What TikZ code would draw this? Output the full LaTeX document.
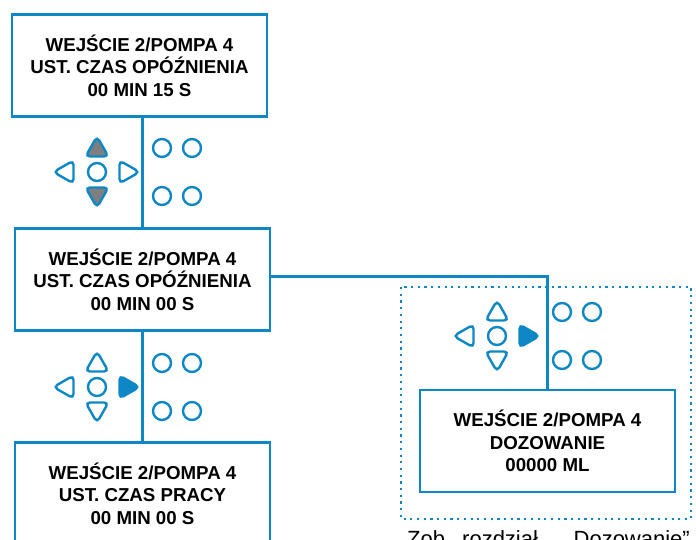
\documentclass[tikz,border=0pt]{standalone}
\usepackage{fontspec}
\setmainfont{Liberation Sans}
\definecolor{cBlue}{HTML}{0E87C7}
\definecolor{cGray}{HTML}{7F7F7F}
\definecolor{cEdge}{HTML}{3F6F8F}
\newcommand\mypad[5]{%
  \begin{scope}[shift={(#1,#2)}]
    \pic[#3] at (0,-24) {tri};
    \pic[#4, rotate=180] at (0,24) {tri};
    \pic[rotate=90] at (-32,0) {tri};
    \pic[#5, rotate=-90] at (31,0) {tri};
    \draw[key] (0,0) circle (9pt);
    \draw[key] (65,-24) circle (9pt);
    \draw[key] (95,-24) circle (9pt);
    \draw[key] (65,24) circle (9pt);
    \draw[key] (95,24) circle (9pt);
  \end{scope}}
\begin{document}
\begin{tikzpicture}[x=1pt,y=-1pt,
  scr/.style={draw=cBlue, line width=2.6pt, minimum width=255pt, minimum height=102pt,
    inner sep=0pt, align=center, font=\bfseries\fontsize{18.7}{22.5}\selectfont},
  wire/.style={draw=cBlue, line width=2.6pt},
  key/.style={draw=cBlue, line width=2.4pt},
  tri/.pic={\path[key, rounded corners=4.5pt, pic actions] (0,-11.5) -- (11.5,8.5) -- (-11.5,8.5) -- cycle;},
  grayed/.style={fill=cGray, draw=cEdge},
  note/.style={anchor=base west, inner sep=0pt, font=\fontsize{22}{25}\selectfont}
]
\useasboundingbox (0,0) rectangle (696,540);
\clip (0,0) rectangle (696,540);

\node[scr] (s1) at (139.5,65.5) {WEJŚCIE 2/POMPA 4\\UST. CZAS OPÓŹNIENIA\\00 MIN 15 S};
\node[scr] (s2) at (142.5,279.5) {WEJŚCIE 2/POMPA 4\\UST. CZAS OPÓŹNIENIA\\00 MIN 00 S};
\node[scr] (s3) at (142.5,493.5) {WEJŚCIE 2/POMPA 4\\UST. CZAS PRACY\\00 MIN 00 S};
\node[scr] (s4) at (547.5,441) {WEJŚCIE 2/POMPA 4\\DOZOWANIE\\00000 ML};

\draw[wire] (s2.north) -- (s2.north |- s1.south);
\draw[wire] (s3.north) -- (s2.south);
\draw[wire] ([yshift=3pt]s2.east) -| (s4.north);

\draw[cBlue, line width=2.2pt, dash pattern=on 2.2pt off 4.5pt] (401,287) rectangle (691,519);

\mypad{97}{172}{grayed}{grayed}{}
\mypad{97}{387}{}{}{fill=cBlue}
\mypad{497}{336}{}{}{fill=cBlue}

\node[note] (n1) at (407,546) {Zob.};
\node[note] (n2) at (462,546) {rozdział};
\node[note, anchor=base east] (n3) at (690,546) {„Dozowanie”};
\end{tikzpicture}
\end{document}
